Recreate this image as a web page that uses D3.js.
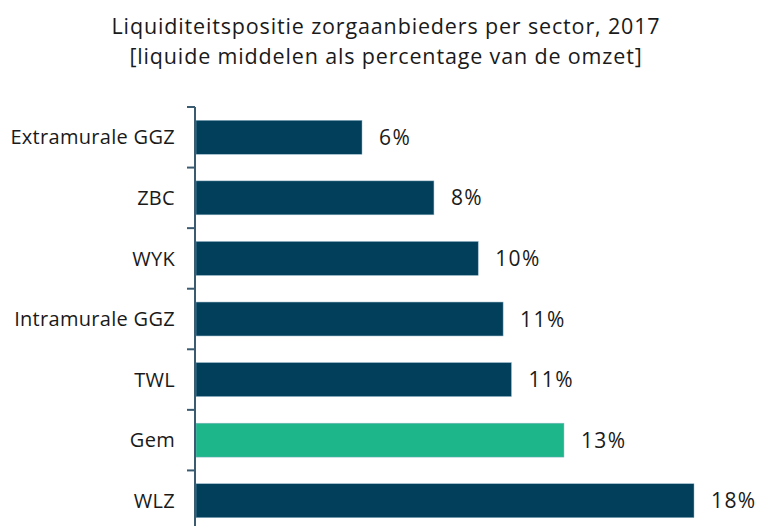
<!DOCTYPE html>
<html>
<head>
<meta charset="utf-8">
<script src="https://cdn.jsdelivr.net/npm/d3@7"></script>
<style>
  body { margin: 0; background: #fff; }
  text { font-family: "Open Sans", sans-serif; fill: #1a1a1a; font-variant-ligatures: none; }
</style>
</head>
<body>
<div id="chart"></div>
<script>
// data
var sectors = ["Extramurale GGZ", "ZBC", "WYK", "Intramurale GGZ", "TWL", "Gem", "WLZ"];
var values = [6.0, 8.6, 10.2, 11.1, 11.4, 13.3, 18.0];
var valueLabels = ["6%", "8%", "10%", "11%", "11%", "13%", "18%"];
var highlight = "Gem";
var titleLines = ["Liquiditeitspositie zorgaanbieders per sector, 2017",
                  "[liquide middelen als percentage van de omzet]"];

var width = 759, height = 526;

var svg = d3.select("#chart")
  .append("svg")
    .attr("width", width)
    .attr("height", height);

var x = d3.scaleLinear()
  .domain([0, 18])
  .range([196, 694]);

var y = d3.scaleBand()
  .domain(sectors)
  .range([107, 531])
  .paddingInner(0.44)
  .paddingOuter(0.22);

// title
svg.selectAll(".title")
  .data(titleLines)
  .enter().append("text")
    .attr("class", "title")
    .attr("x", 386)
    .attr("y", function(d, i) { return 34 + i * 30; })
    .attr("text-anchor", "middle")
    .style("font-size", "21.5px")
    .style("letter-spacing", "0.85px")
    .text(function(d) { return d; });

// bars
svg.selectAll(".bar")
  .data(sectors)
  .enter().append("rect")
    .attr("class", "bar")
    .attr("x", x(0))
    .attr("y", function(d) { return y(d); })
    .attr("width", function(d, i) { return x(values[i]) - x(0); })
    .attr("height", y.bandwidth())
    .attr("fill", function(d) { return d === highlight ? "#1db68a" : "#023f5a"; })
    .attr("stroke", "#8fb3c6")
    .attr("stroke-width", 0.5);

// value labels
svg.selectAll(".val")
  .data(sectors)
  .enter().append("text")
    .attr("class", "val")
    .attr("x", function(d, i) { return x(values[i]) + 17; })
    .attr("y", function(d) { return y(d) + y.bandwidth() / 2; })
    .attr("dy", "0.36em")
    .style("font-size", "21px")
    .style("letter-spacing", "1.4px")
    .text(function(d, i) { return valueLabels[i]; });

// y axis
var yAxis = svg.append("g")
  .attr("transform", "translate(195,0)")
  .call(d3.axisLeft(y).tickSize(0).tickPadding(20));

yAxis.select(".domain").remove();
yAxis.selectAll("text")
  .style("font-size", "20px")
  .style("letter-spacing", "0.3px")
  .style("font-family", "'Open Sans', sans-serif")
  .attr("dy", "0.36em")
  .attr("fill", "#1a1a1a");

// boundary ticks between bands
var bounds = sectors.map(function(d) { return y(d) - y.step() * y.paddingInner() / 2; });
bounds.push(y(sectors[sectors.length - 1]) + y.bandwidth() + y.step() * y.paddingInner() / 2);

yAxis.append("line")
  .attr("x1", 0).attr("x2", 0)
  .attr("y1", bounds[0]).attr("y2", height)
  .attr("stroke", "#3b5b70")
  .attr("stroke-width", 2);

yAxis.selectAll(".btick")
  .data(bounds)
  .enter().append("line")
    .attr("class", "btick")
    .attr("x1", -8).attr("x2", 0)
    .attr("y1", function(d) { return d; })
    .attr("y2", function(d) { return d; })
    .attr("stroke", "#3b5b70")
    .attr("stroke-width", 2);
</script>
</body>
</html>
